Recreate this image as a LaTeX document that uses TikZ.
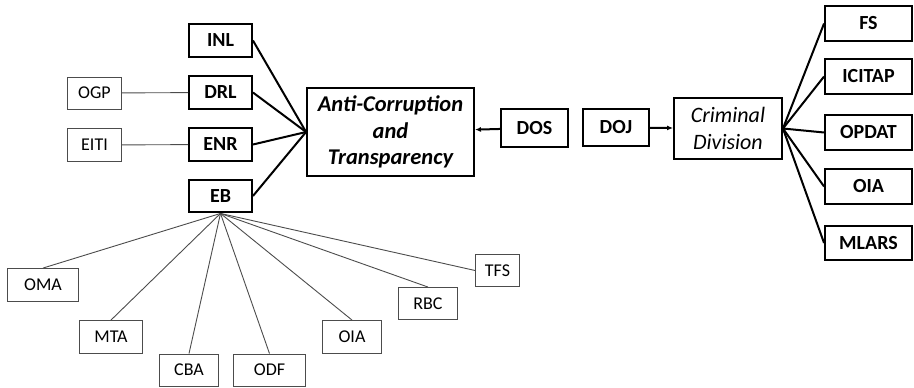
\documentclass[tikz,border=0pt]{standalone}
\usepackage{fontspec}
\setmainfont{Carlito}
\usetikzlibrary{arrows.meta}
\begin{document}
\begin{tikzpicture}[
    x=1pt, y=-1pt,
    unit/.style={draw, line width=2.4pt, inner sep=0pt, minimum width=62.5pt, minimum height=32.5pt, font=\fontsize{20}{24}\selectfont\bfseries},
    sub/.style={draw=black!70, line width=0.9pt, inner sep=0pt, minimum height=32pt, font=\fontsize{18}{22}\selectfont},
    link/.style={line width=2pt},
    thinlink/.style={draw=black!70, line width=0.9pt}
]
\useasboundingbox (0,0) rectangle (914,388);
% state side
\node[unit] (inl) at (220.5,40.5) {INL};
\node[unit] (drl) at (220.5,92.5) {DRL};
\node[unit] (enr) at (220.5,144.5) {ENR};
\node[unit] (eb)  at (220.5,196) {EB};
\node[sub, minimum width=54pt] (ogp)  at (94.5,93) {OGP};
\node[sub, minimum width=54pt, minimum height=33pt] (eiti) at (94.5,145) {EITI};
\node[unit, minimum width=166.5pt, minimum height=87.5pt, align=center,
      font=\fontsize{22.5}{26.5}\selectfont\bfseries\itshape] (act) at (390.5,132)
      {Anti-Corruption\\and\\Transparency};
\node[unit, minimum width=66.5pt, minimum height=37.5pt] (dos) at (534.5,128) {DOS};
\node[unit, minimum width=65.5pt, minimum height=36.5pt] (doj) at (616,127.5) {DOJ};
% justice side
\node[unit, minimum width=107.5pt, minimum height=60.5pt, align=center,
      font=\fontsize{22}{27}\selectfont\itshape] (crim) at (728,128.5) {Criminal\\Division};
\node[unit, minimum width=86.5pt, minimum height=34.5pt] (fs)     at (868.5,23.5)  {FS};
\node[unit, minimum width=86.5pt, minimum height=34.5pt] (icitap) at (868.5,76.5)  {ICITAP};
\node[unit, minimum width=86.5pt, minimum height=34.5pt] (opdat)  at (868.5,132.5) {OPDAT};
\node[unit, minimum width=86.5pt, minimum height=34.5pt] (oiaj)   at (868.5,186.5) {OIA};
\node[unit, minimum width=86.5pt, minimum height=34.5pt] (mlars)  at (868.5,243)   {MLARS};
% under EB
\node[sub, minimum width=71pt, minimum height=33pt] (oma) at (43,285)    {OMA};
\node[sub, minimum width=63pt, minimum height=33pt] (mta) at (111,337)   {MTA};
\node[sub, minimum width=59pt] (cba) at (189,370)   {CBA};
\node[sub, minimum width=72pt] (odf) at (269.5,370) {ODF};
\node[sub, minimum width=59pt, minimum height=33pt] (oiab) at (352,337)  {OIA};
\node[sub, minimum width=59pt] (rbc) at (428,303.5) {RBC};
\node[sub, minimum width=44pt] (tfs) at (497.5,270.5) {TFS};

\foreach \n in {inl,drl,enr,eb}
    \draw[link] (\n.east) -- (act.west);
\draw[thinlink] (ogp) -- (drl);
\draw[thinlink] (eiti) -- (enr);
\draw[link, -{Latex[length=6pt,width=5pt]}] (dos) -- (act);
\draw[link, -{Latex[length=6pt,width=5pt]}] (doj) -- (crim);
\foreach \n in {fs,icitap,opdat,oiaj,mlars}
    \draw[link] (crim.east) -- (\n.west);
\foreach \n in {oma,mta,cba,odf,oiab,rbc}
    \draw[thinlink] (eb.south) -- (\n.north);
\draw[thinlink] (eb.south) -- (tfs.west);
\end{tikzpicture}
\end{document}
